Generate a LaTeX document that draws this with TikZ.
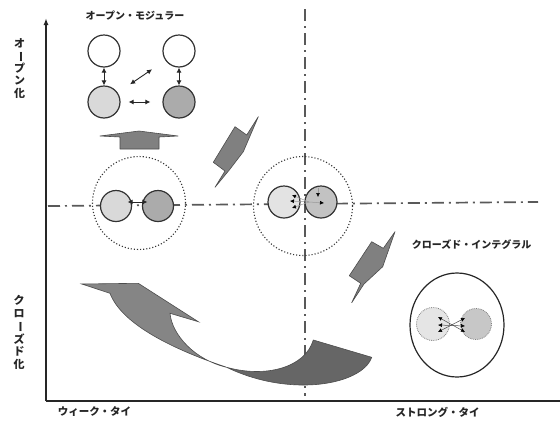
\documentclass[tikz,border=0pt]{standalone}
\usepackage{fontspec}
\newfontfamily\jp{Noto Sans CJK JP}
\usetikzlibrary{arrows.meta,shapes.geometric}
\begin{document}
\begin{tikzpicture}[x=1pt,y=-1pt,
  lbl/.style={font=\jp\bfseries\fontsize{10}{12.5}\selectfont, inner sep=0, text=black!85},
  lblv/.style={font=\jp\bfseries\fontsize{11}{12.5}\selectfont, inner sep=0, text=black!85},
  lblb/.style={font=\jp\bfseries\fontsize{10.5}{12.5}\selectfont, inner sep=0, text=black!85},
  ddline/.style={draw=black!65, line width=1.7pt, dash pattern=on 12pt off 5pt on 2pt off 5pt},
  axis/.style={draw=black!85, line width=1.4pt},
  modc/.style={circle, draw=black!80, line width=1.2pt, minimum size=32pt, inner sep=0},
  pairc/.style={circle, draw=black!80, line width=1.2pt, minimum size=31pt, inner sep=0},
  softc/.style={circle, draw=black!50, densely dotted, line width=0.8pt, minimum size=31pt, inner sep=0},
  dotc/.style={circle, draw=black!80, dotted, line width=1.1pt, inner sep=0},
  dbl/.style={{Latex[length=5pt,width=5pt]}-{Latex[length=5pt,width=5pt]}, line width=0.9pt, draw=black!85},
  tip/.style={-{Latex[length=4pt,width=4pt,black]}, line width=0.5pt, draw=black!40},
  tipd/.style={{Latex[length=4pt,width=4pt,black]}-{Latex[length=4pt,width=4pt,black]}, line width=0.5pt, draw=black!70},
  blk/.style={fill=black!50, draw=black!70, line width=0.6pt, line join=round},
  ribA/.style={fill=black!48, draw=black!70, line width=0.6pt},
  ribB/.style={fill=black!60, draw=black!70, line width=0.6pt}]
\useasboundingbox (0,0) rectangle (560,429);
\fill[white] (0,0) rectangle (560,429);

% axes
\coordinate (O) at (46,401);
\coordinate (Ytop) at (46,18);
\coordinate (Xend) at (560,401);
\draw[axis,-{Latex[length=7pt,width=5pt]}] (O) -- (Ytop);
\draw[axis] (O) -- (Xend);

% dash-dot centre lines
\coordinate (V1) at (305,9);
\coordinate (V2) at (305,396);
\coordinate (H1) at (48,206);
\coordinate (H2) at (538,202);
\draw[ddline] (V1) -- (V2);
\draw[ddline] (H1) -- (H2);

% labels
\node[lbl] (title) at (135,16) {オープン・モジュラー};
\node[lblv, align=center] (yopen) at (19.5,68.5) {オ\\\rotatebox[origin=c]{-90}{ー}\\プ\\ン\\化};
\node[lblv, align=center] (yclose) at (19,332.5) {ク\\ロ\\\rotatebox[origin=c]{-90}{ー}\\ズ\\ド\\化};
\node[lblb] (weak) at (94.5,412) {ウィーク・タイ};
\node[lblb] (strong) at (437.5,412) {ストロング・タイ};
\node[lbl] (ci) at (471.5,245) {クローズド・インテグラル};

% open modular block
\node[modc, fill=white] (w1) at (104,51) {};
\node[modc, fill=white] (w2) at (179,51) {};
\node[modc, fill=black!15] (g1) at (104,102) {};
\node[modc, fill=black!33] (g2) at (179,102) {};
\draw[dbl] (w1) -- (g1);
\draw[dbl] (w2) -- (g2);
\draw[dbl, shorten <=8pt, shorten >=12pt] (g1) -- (g2);
\draw[dbl, shorten <=15pt, shorten >=16pt] (g1) -- (w2);

% flat up arrow
\filldraw[blk] (120,149) -- (120,137) -- (100,136) -- (139,131) -- (178,136) -- (159,137) -- (159,149) -- cycle;

% left dotted group
\node[dotc, minimum size=93pt] (dl) at (139,203) {};
\node[pairc, fill=black!15] (lp1) at (116,206) {};
\node[pairc, fill=black!33] (lp2) at (158,206) {};
\draw[dbl, line width=0.8pt] ([xshift=-4.5pt,yshift=4pt]lp1.east) -- ([xshift=5.5pt,yshift=4pt]lp2.west);

% centre dotted group
\node[dotc, minimum size=99pt] (dc) at (303,206) {};
\node[pairc, minimum size=32pt, fill=black!11] (cp1) at (284,202) {};
\node[pairc, minimum size=32pt, fill=black!24] (cp2) at (321,202) {};
\coordinate (cm) at (309,202);
\coordinate (ct1) at (292,195);
\coordinate (ct2) at (290,201);
\coordinate (ct3) at (292,208);
\coordinate (ct4) at (318,197);
\coordinate (ct5) at (324,203);
\coordinate (cs4) at (318,188);
\draw[tip] (cm) -- (ct1);
\draw[tip] (cm) -- (ct2);
\draw[tip] (cm) -- (ct3);
\draw[tip] (cs4) -- (ct4);
\draw[tip] (cm) -- (ct5);

% closed integral group
\node[ellipse, draw=black!85, line width=1.2pt, minimum width=94pt, minimum height=104pt, inner sep=0] (ell) at (457,325) {};
\node[softc, minimum size=33pt, fill=black!10] (ep1) at (433,324) {};
\node[softc, fill=black!22] (ep2) at (476,324) {};
\coordinate (ea1) at (438,317);
\coordinate (ea2) at (438,325);
\coordinate (ea3) at (438,332);
\coordinate (eb1) at (465,318);
\coordinate (eb2) at (465,326);
\coordinate (eb3) at (465,332);
\draw[tipd] (ea1) -- (eb3);
\draw[tipd] (ea3) -- (eb1);
\draw[tipd] (ea2) -- (eb2);

% zigzag arrows
\filldraw[blk] (215,187.3) -- (225,171) -- (213.3,162.3) -- (235,126.7) -- (246.7,135) -- (258.3,116.7) -- (243.3,151.7) -- (229.3,170) -- cycle;
\filldraw[blk] (351.7,302.7) -- (360.7,283.3) -- (349.3,275.7) -- (371.7,241.7) -- (383.3,248.3) -- (395,231.7) -- (382.7,266.7) -- (364,284) -- cycle;

% big twisted ribbon arrow
\coordinate (Hh1) at (81.7,284);
\coordinate (Hh2) at (138.3,283.3);
\coordinate (Hh3) at (198.3,321.7);
\coordinate (Hh4) at (170,313.3);
\coordinate (Hh5) at (110,293.3);
\coordinate (Xc) at (226.7,367.3);
\coordinate (Rr1) at (313.3,340);
\coordinate (Rr2) at (371.7,357.3);
\filldraw[ribB] (Xc) .. controls (265,378) and (305,368) .. (Rr1) -- (Rr2) .. controls (362,385) and (290,398) .. (Xc) -- cycle;
\filldraw[ribA] (Hh1) -- (Hh2) -- (Hh3) -- (Hh4) .. controls (172,335) and (195,360) .. (Xc) .. controls (175,350) and (122,325) .. (Hh5) -- cycle;
\end{tikzpicture}
\end{document}
